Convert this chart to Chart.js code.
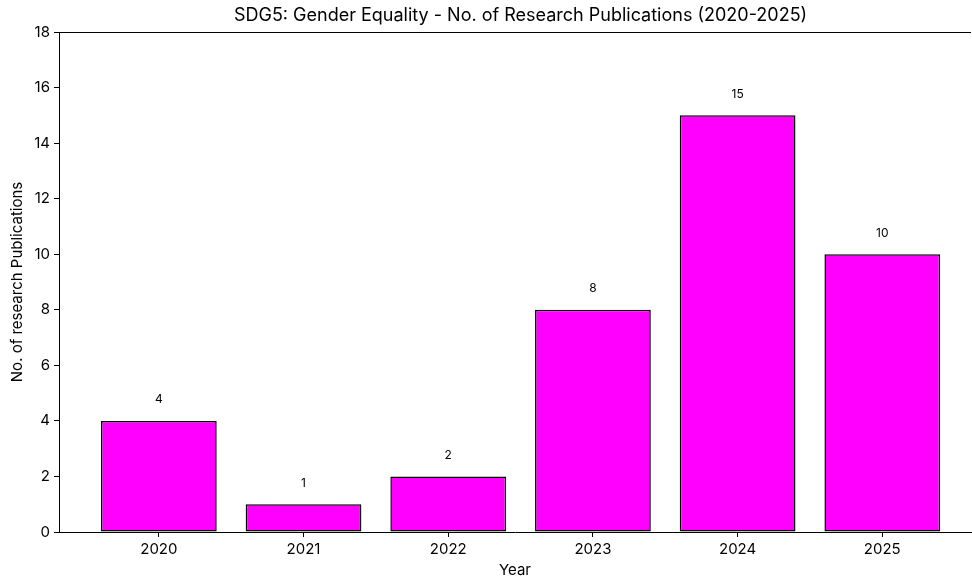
<!DOCTYPE html>
<html>
<head>
<meta charset="utf-8">
<script src="https://cdn.jsdelivr.net/npm/chart.js@4"></script>
<style>
html,body{margin:0;padding:0;background:#fff;}
#wrap{width:972px;height:588px;}
</style>
</head>
<body>
<div id="wrap"><canvas id="c" width="972" height="588"></canvas></div>
<script>
const categories = ["2020", "2021", "2022", "2023", "2024", "2025"];
const publications = [4, 1, 2, 8, 15, 10];
const yTicks = [0, 2, 4, 6, 8, 10, 12, 14, 16, 18];
const chartTitle = 'SDG5: Gender Equality - No. of Research Publications (2020-2025)';

const FONT = "Inter, 'Open Sans', sans-serif";

const topSpineAndTitle = {
  id: 'topSpineAndTitle',
  afterDraw(chart) {
    const {ctx, chartArea, scales} = chart;
    ctx.save();
    ctx.strokeStyle = '#000';
    ctx.lineWidth = 1;
    ctx.beginPath();
    ctx.moveTo(chartArea.left, Math.round(chartArea.top) + 0.5);
    ctx.lineTo(chartArea.right, Math.round(chartArea.top) + 0.5);
    ctx.stroke();
    // title centred over the full (virtual) axes width, as in the reference
    const cx = (scales.x.getPixelForValue(-0.69) + scales.x.getPixelForValue(5.69)) / 2;
    ctx.fillStyle = '#000';
    ctx.font = "18px " + FONT;
    ctx.textAlign = 'center';
    ctx.textBaseline = 'middle';
    ctx.fillText(chartTitle, cx, 16);
    ctx.restore();
  }
};

const valueLabels = {
  id: 'valueLabels',
  afterDatasetsDraw(chart) {
    const {ctx, scales} = chart;
    const ds = chart.data.datasets[0];
    ctx.save();
    ctx.fillStyle = '#000';
    ctx.font = "12px " + FONT;
    ctx.textAlign = 'center';
    ctx.textBaseline = 'middle';
    ds.data.forEach(p => {
      const x = scales.x.getPixelForValue(p.x);
      const y = scales.y.getPixelForValue(p.y) - 21;
      ctx.fillText(String(p.y), x, y);
    });
    ctx.restore();
  }
};

new Chart(document.getElementById('c'), {
  type: 'bar',
  data: {
    datasets: [{
      data: categories.map((c, i) => ({x: i, y: publications[i]})),
      backgroundColor: '#ff00ff',
      borderColor: '#000',
      borderWidth: 1.5,
      borderSkipped: false,
      barPercentage: 0.8,
      categoryPercentage: 1.0
    }]
  },
  options: {
    responsive: false,
    animation: false,
    devicePixelRatio: 1,
    layout: {padding: {right: 1, bottom: 0, left: 0, top: 32}},
    plugins: {
      legend: {display: false},
      tooltip: {enabled: false},
      title: {display: false}
    },
    scales: {
      x: {
        type: 'linear',
        min: -0.69,
        max: 5.613,
        offset: false,
        afterFit(s) { s.height = 56; },
        afterBuildTicks(s) { s.ticks = categories.map((c, i) => ({value: i})); },
        ticks: {
          color: '#000',
          font: {family: FONT, size: 15},
          padding: 3,
          maxRotation: 0,
          autoSkip: false,
          callback: (v) => categories[v]
        },
        grid: {drawOnChartArea: false, drawTicks: true, tickLength: 5, color: '#000', offset: false},
        border: {display: true, color: '#000', width: 1},
        title: {
          display: true,
          text: 'Year',
          color: '#000',
          font: {family: FONT, size: 15},
          padding: {top: 0, bottom: 9}
        }
      },
      y: {
        min: 0,
        max: 18,
        afterFit(s) { s.width = 59; },
        afterBuildTicks(s) { s.ticks = yTicks.map(v => ({value: v})); },
        ticks: {
          color: '#000',
          font: {family: FONT, size: 15},
          padding: 4
        },
        grid: {drawOnChartArea: false, drawTicks: true, tickLength: 5, color: '#000'},
        border: {display: true, color: '#000', width: 1},
        title: {
          display: true,
          text: 'No. of research Publications',
          color: '#000',
          font: {family: FONT, size: 15},
          padding: {top: 8, bottom: 2}
        }
      }
    }
  },
  plugins: [topSpineAndTitle, valueLabels]
});
</script>
</body>
</html>
